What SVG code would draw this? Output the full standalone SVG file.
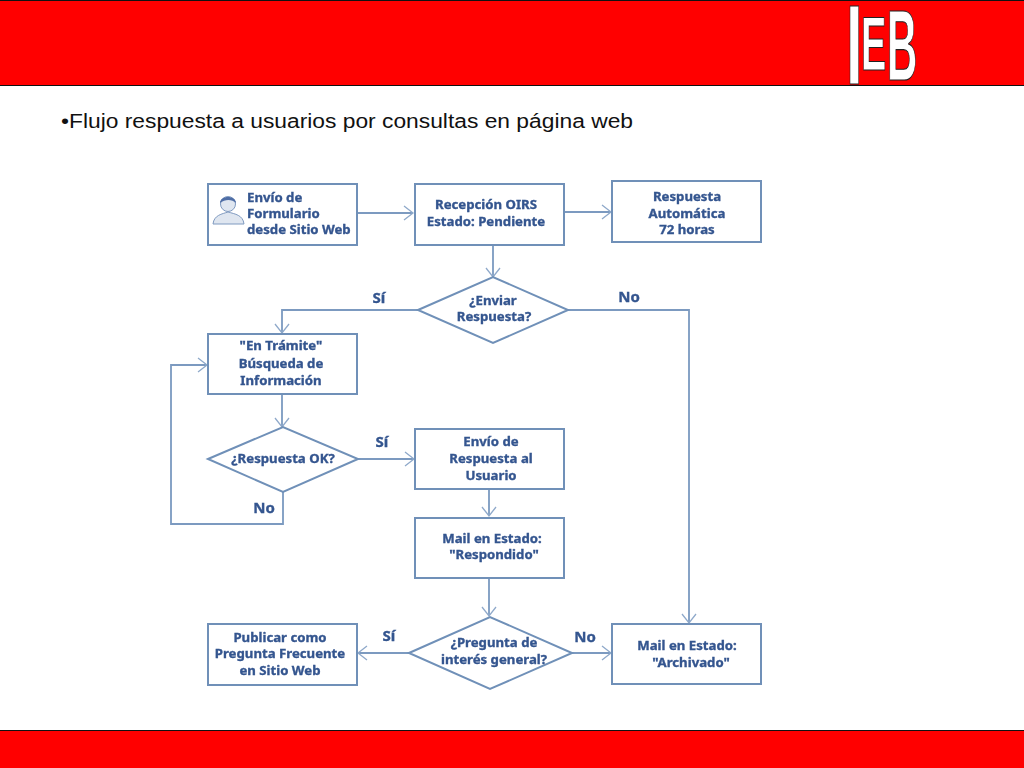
<svg xmlns="http://www.w3.org/2000/svg" width="1024" height="768" viewBox="0 0 1024 768">
<style>
.band{fill:#ff0000;stroke:#111;stroke-width:1}
.box{fill:#fff;stroke:#6f90b8;stroke-width:2}
.line{fill:none;stroke:#7b9ac0;stroke-width:1.8}
.head{fill:none;stroke:#8fa9ca;stroke-width:1.3}
.t{font-family:"Noto Sans","DejaVu Sans",sans-serif;font-weight:700;font-size:13.2px;fill:#34558f;stroke:#34558f;stroke-width:.35px;text-anchor:middle}
.s{text-anchor:start}
.l{font-size:15px}
.logo{font-family:"Liberation Sans",Arial,sans-serif;font-weight:700;fill:#fff;stroke:#222;stroke-width:.5px}
</style>
<defs>
<marker id="a" markerUnits="userSpaceOnUse" markerWidth="14" markerHeight="18" refX="11" refY="8" orient="auto">
<path class="head" d="M2 1L11 8L2 15"/>
</marker>
<filter id="soft" x="-5%" y="-5%" width="110%" height="110%"><feGaussianBlur stdDeviation="0.55"/></filter>
</defs>
<rect id="top-band" class="band" x="-1" y="0.5" width="1026" height="85"/>
<rect id="bottom-band" class="band" x="-1" y="730.5" width="1026" height="39"/>
<g id="logo">
<text class="logo" transform="translate(846 84) scale(1 1.9)" font-size="60">I</text>
<text class="logo" transform="translate(861 70) scale(1 2)" font-size="38">E</text>
<text class="logo" transform="translate(887 80) scale(1 2.4)" font-size="42">B</text>
</g>
<text id="title" x="61" y="128" font-family="'Liberation Sans',Arial,sans-serif" font-size="20" fill="#111" textLength="572" lengthAdjust="spacingAndGlyphs">•Flujo respuesta a usuarios por consultas en página web</text>
<g filter="url(#soft)">
<g id="connectors">
<path class="line" marker-end="url(#a)" d="M357 213H413"/>
<path class="line" marker-end="url(#a)" d="M564 212H611"/>
<path class="line" marker-end="url(#a)" d="M493 245V277"/>
<path class="line" marker-end="url(#a)" d="M418 310H282V333"/>
<path class="line" marker-end="url(#a)" d="M568 310H689V623"/>
<path class="line" marker-end="url(#a)" d="M282 394V427"/>
<path class="line" marker-end="url(#a)" d="M358 459H414"/>
<path class="line" marker-end="url(#a)" d="M283 492V524H171V365H207"/>
<path class="line" marker-end="url(#a)" d="M489 489V516"/>
<path class="line" marker-end="url(#a)" d="M489 578V616"/>
<path class="line" marker-end="url(#a)" d="M409 653H358"/>
<path class="line" marker-end="url(#a)" d="M572 653H611"/>
</g>
<g id="n1"><rect class="box" x="208" y="184" width="149" height="61"/>
<g fill="#dfe6f0" stroke="#7f9ac0" stroke-width="1"><path d="M213 224C214 215 222 214 228 212C235 214 243 215 244 224Z"/><circle cx="228" cy="204" r="7.5"/></g><path d="M220 203C220 195 236 195 236 203C232 199 225 199 220 203Z" fill="#4f6ea6"/>
<text class="t s" x="247" y="202">Envío de</text><text class="t s" x="247" y="218">Formulario</text><text class="t s" x="247" y="234">desde Sitio Web</text></g>
<g id="n2"><rect class="box" x="415" y="184" width="149" height="61"/><text class="t" x="486" y="209">Recepción OIRS</text><text class="t" x="486" y="226">Estado: Pendiente</text></g>
<g id="n3"><rect class="box" x="612" y="181" width="149" height="61"/><text class="t" x="687" y="201">Respuesta</text><text class="t" x="687" y="218">Automática</text><text class="t" x="687" y="234">72 horas</text></g>
<g id="d1"><path class="box" d="M418 310L493 277L568 310L493 343Z"/><text class="t" x="493" y="305">¿Enviar</text><text class="t" x="494" y="321">Respuesta?</text></g>
<g id="n4"><rect class="box" x="208" y="334" width="149" height="60"/><text class="t" x="281" y="350">"En Trámite"</text><text class="t" x="281" y="368">Búsqueda de</text><text class="t" x="281" y="385">Información</text></g>
<g id="d2"><path class="box" d="M208 459L283 427L358 459L283 492Z"/><text class="t" x="283" y="463">¿Respuesta OK?</text></g>
<g id="n5"><rect class="box" x="415" y="429" width="149" height="60"/><text class="t" x="491" y="446">Envío de</text><text class="t" x="491" y="463">Respuesta al</text><text class="t" x="491" y="480">Usuario</text></g>
<g id="n6"><rect class="box" x="415" y="518" width="149" height="60"/><text class="t" x="492" y="543">Mail en Estado:</text><text class="t" x="494" y="559">"Respondido"</text></g>
<g id="d3"><path class="box" d="M409 653L490 617L572 653L490 689Z"/><text class="t" x="494" y="647">¿Pregunta de</text><text class="t" x="494" y="664">interés general?</text></g>
<g id="n7"><rect class="box" x="208" y="624" width="149" height="61"/><text class="t" x="280" y="642">Publicar como</text><text class="t" x="280" y="658">Pregunta Frecuente</text><text class="t" x="280" y="675">en Sitio Web</text></g>
<g id="n8"><rect class="box" x="612" y="624" width="149" height="60"/><text class="t" x="687" y="650">Mail en Estado:</text><text class="t" x="691" y="667">"Archivado"</text></g>
<g id="labels">
<text class="t l" x="379" y="303">Sí</text><text class="t l" x="629" y="302">No</text><text class="t l" x="382" y="447">Sí</text><text class="t l" x="264" y="513">No</text><text class="t l" x="389" y="641">Sí</text><text class="t l" x="585" y="642">No</text>
</g>
</g>
</svg>
